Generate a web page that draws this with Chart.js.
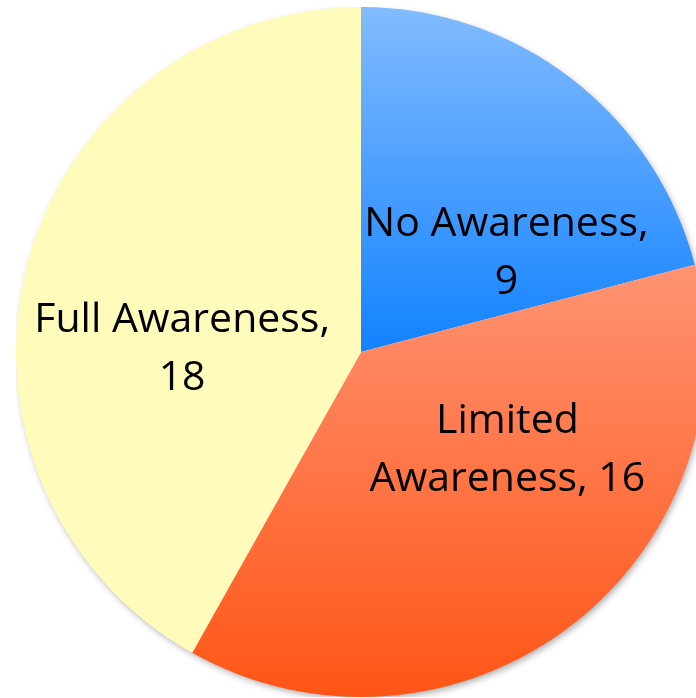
<!DOCTYPE html>
<html>
<head>
<meta charset="utf-8">
<script src="https://cdn.jsdelivr.net/npm/chart.js@4"></script>
<style>
  html, body { margin: 0; padding: 0; background: #ffffff; overflow: hidden; width: 696px; height: 698px; }
  #wrap { position: absolute; left: 16px; top: 7px; width: 690px; height: 690px; }
</style>
</head>
<body>
<div id="wrap"><canvas id="pie" width="690" height="690"></canvas></div>
<script>
// Awareness levels and respondent counts
const categories = ['No Awareness', 'Limited Awareness', 'Full Awareness'];
const counts = [9, 16, 18];

// Vertical gradient stops for each slice: [top colour, bottom colour]
const sliceColours = [
  ['#82bbff', '#1282ff'],
  ['#ff9373', '#ff5516'],
  ['#fffcbb', '#fffcbb']
];

// Label nudges (px) from each arc's centre point
const labelNudge = [[40, 38], [41, -38], [-12, 41]];
const LABEL_FONT = '41px "Open Sans", sans-serif';
const LINE_HEIGHT = 58;
const WRAP_WIDTH = 312;

// Vertical extent of a slice, used to size its gradient
function sliceYRange(cx, cy, r, a0, a1) {
  const ys = [cy, cy + r * Math.sin(a0), cy + r * Math.sin(a1)];
  for (let k = -4; k <= 8; k++) {
    const a = k * Math.PI / 2;
    if (a > a0 && a < a1) ys.push(cy + r * Math.sin(a));
  }
  return [Math.min(...ys), Math.max(...ys)];
}

function sliceFill(ctx) {
  const chart = ctx.chart;
  const area = chart.chartArea;
  const i = ctx.dataIndex;
  if (!area) return sliceColours[i][0];
  const total = counts.reduce((s, v) => s + v, 0);
  let before = 0;
  for (let k = 0; k < i; k++) before += counts[k];
  const a0 = -Math.PI / 2 + before / total * Math.PI * 2;
  const a1 = a0 + counts[i] / total * Math.PI * 2;
  const cx = (area.left + area.right) / 2;
  const cy = (area.top + area.bottom) / 2;
  const r = Math.min(area.width, area.height) / 2;
  const [y0, y1] = sliceYRange(cx, cy, r, a0, a1);
  const g = chart.ctx.createLinearGradient(0, y0, 0, y1);
  g.addColorStop(0, sliceColours[i][0]);
  g.addColorStop(1, sliceColours[i][1]);
  return g;
}

function wrapText(c, text, maxW) {
  const words = text.split(' ');
  const lines = [];
  let line = '';
  for (const w of words) {
    const test = line ? line + ' ' + w : w;
    if (line && c.measureText(test).width > maxW) {
      lines.push(line);
      line = w;
    } else {
      line = test;
    }
  }
  if (line) lines.push(line);
  return lines;
}

// Soft drop shadow under the whole pie
const pieShadow = {
  id: 'pieShadow',
  beforeDatasetsDraw(chart) {
    const arc = chart.getDatasetMeta(0).data[0];
    if (!arc) return;
    const c = chart.ctx;
    c.save();
    c.shadowColor = 'rgba(0,0,0,0.35)';
    c.shadowBlur = 7;
    c.shadowOffsetX = 2;
    c.shadowOffsetY = 3;
    c.fillStyle = '#ffffff';
    c.beginPath();
    c.arc(arc.x, arc.y, arc.outerRadius - 1, 0, Math.PI * 2);
    c.fill();
    c.restore();
  }
};

// "Category, value" labels inside each slice
const sliceLabels = {
  id: 'sliceLabels',
  afterDatasetsDraw(chart) {
    const c = chart.ctx;
    const meta = chart.getDatasetMeta(0);
    c.save();
    c.font = LABEL_FONT;
    c.fillStyle = '#000000';
    c.textAlign = 'center';
    c.textBaseline = 'middle';
    meta.data.forEach((arc, i) => {
      const p = arc.getCenterPoint();
      const x = p.x + labelNudge[i][0];
      const y = p.y + labelNudge[i][1];
      const lines = wrapText(c, categories[i] + ', ' + chart.data.datasets[0].data[i], WRAP_WIDTH);
      const top = y - (lines.length - 1) * LINE_HEIGHT / 2;
      lines.forEach((ln, j) => c.fillText(ln, x, top + j * LINE_HEIGHT));
    });
    c.restore();
  }
};

new Chart(document.getElementById('pie'), {
  type: 'pie',
  data: {
    labels: categories,
    datasets: [{
      data: counts,
      backgroundColor: sliceFill,
      borderWidth: 0
    }]
  },
  options: {
    responsive: false,
    animation: false,
    layout: { padding: 0 },
    plugins: {
      legend: { display: false },
      tooltip: { enabled: false },
      title: { display: false }
    }
  },
  plugins: [pieShadow, sliceLabels]
});
</script>
</body>
</html>
